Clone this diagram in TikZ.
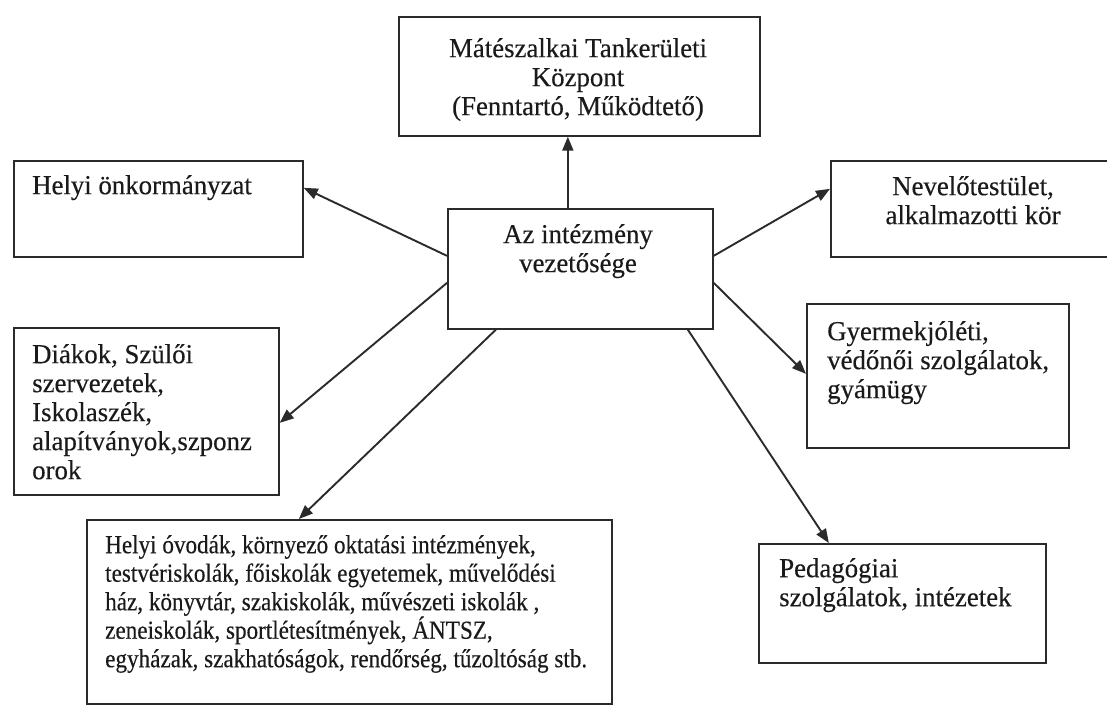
\documentclass[tikz,border=0pt]{standalone}
\usepackage{fontspec}
\setmainfont[FakeStretch=0.975,FakeBold=0.3]{Liberation Serif}
\newfontfamily\ovofont[FakeStretch=0.89,FakeBold=0.3]{Liberation Serif}
\usetikzlibrary{arrows.meta}
\definecolor{ink}{HTML}{2B2B2B}
\definecolor{txtc}{HTML}{1A1A1A}
\newcommand{\fbig}{\fontsize{27.5}{29}\selectfont}
\newcommand{\fsml}{\ovofont\fontsize{26}{28.5}\selectfont}
\newcommand{\mystrut}{\rule{0pt}{26pt}}
\newcommand{\mystruts}{\rule{0pt}{23pt}}
\tikzset{
  box/.style={draw=ink, line width=1.7pt, inner sep=0pt, anchor=north west},
  txt/.style={font=\fbig, text=txtc, inner sep=0pt, align=left, anchor=north west},
  ctxt/.style={font=\fbig, text=txtc, inner sep=0pt, align=center, anchor=north},
  arr/.style={draw=ink, line width=1.9pt, -{Triangle[length=14pt,width=11pt]}}
}
\begin{document}
\begin{tikzpicture}[x=1pt,y=-1pt]
\clip (0,0) rectangle (1107,704);
\fill[white] (0,0) rectangle (1107,704);
% boxes
\node[box, minimum width=361pt, minimum height=119pt] (tk) at (398,16) {};
\node[box, minimum width=289pt, minimum height=96pt] (hel) at (13,160) {};
\node[box, minimum width=265pt, minimum height=120pt] (ctr) at (447,208) {};
\node[box, minimum width=286pt, minimum height=96pt] (nev) at (830,160) {};
\node[box, minimum width=262pt, minimum height=144pt] (gye) at (806,303) {};
\node[box, minimum width=265pt, minimum height=167pt] (dia) at (13,327) {};
\node[box, minimum width=525pt, minimum height=184pt] (ovo) at (86,519) {};
\node[box, minimum width=287pt, minimum height=119pt] (ped) at (758,543) {};
% texts
\node[ctxt] (tkt) at (578,31) {\mystrut Mátészalkai Tankerületi\\ Központ\\ (Fenntartó, Működtető)};
\node[txt] (helt) at (32,168) {\mystrut Helyi önkormányzat};
\node[ctxt] (ctrt) at (578,217) {\mystrut Az intézmény\\ vezetősége};
\node[ctxt] (nevt) at (973,169) {\mystrut Nevelőtestület,\\ alkalmazotti kör};
\node[txt] (gyet) at (827,314) {\mystrut Gyermekjóléti,\\ védőnői szolgálatok,\\ gyámügy};
\node[txt] (diat) at (32,337) {\mystrut Diákok, Szülői\\ szervezetek,\\ Iskolaszék,\\ alapítványok,szponz\\ orok};
\node[txt, font=\fsml] (ovot) at (105,530) {\mystruts Helyi óvodák, környező oktatási intézmények,\\ testvériskolák, főiskolák egyetemek, művelődési\\ ház, könyvtár, szakiskolák, művészeti iskolák ,\\ zeneiskolák, sportlétesítmények, ÁNTSZ,\\ egyházak, szakhatóságok, rendőrség, tűzoltóság stb.};
\node[txt] (pedt) at (779,551) {\mystrut Pedagógiai\\ szolgálatok, intézetek};
% connectors
\draw[arr] ([xshift=-12.5pt]ctr.north) -- ([xshift=-12.5pt]ctr.north |- tk.south);
\draw[arr] ([yshift=13pt]ctr.west) -- ([yshift=21pt]hel.east);
\draw[arr] ([yshift=-14pt]ctr.west) -- ([yshift=-11.5pt]dia.east);
\draw[arr] ([xshift=-84.5pt]ctr.south) -- ([xshift=-50.5pt]ovo.north);
\draw[arr] ([yshift=13pt]ctr.east) -- ([yshift=20pt]nev.west);
\draw[arr] ([yshift=-14pt]ctr.east) -- ([yshift=2pt]gye.west);
\draw[arr] ([xshift=107.5pt]ctr.south) -- ([xshift=-73.5pt]ped.north);
\end{tikzpicture}
\end{document}
